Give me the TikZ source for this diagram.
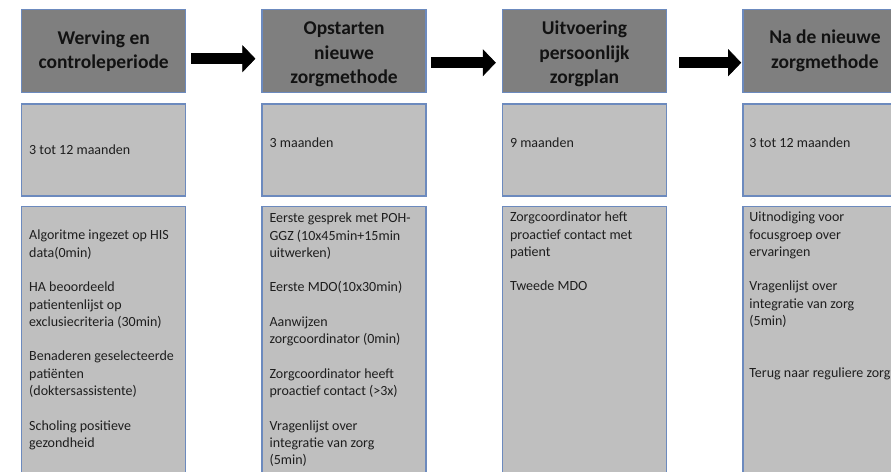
\documentclass[tikz,border=0pt]{standalone}
\usepackage{fontspec}
\setmainfont{Carlito}
\usetikzlibrary{positioning,arrows.meta}
\definecolor{phasegray}{RGB}{127,127,127}
\definecolor{infogray}{RGB}{191,191,191}
\definecolor{edgeblue}{RGB}{108,138,190}
\definecolor{inktext}{RGB}{30,30,30}
\definecolor{headink}{RGB}{18,18,18}
\newcommand{\emptyrow}{\\[17.3pt]}
\begin{document}
\begin{tikzpicture}[x=1pt, y=1pt,
    phase/.style = {draw=edgeblue, line width=1.4pt, fill=phasegray, minimum width=164pt, minimum height=83pt, align=center, text=headink, font=\fontsize{19.5}{24.8}\selectfont\bfseries},
    period/.style = {draw=edgeblue, line width=1.4pt, fill=infogray, minimum width=164pt, minimum height=92pt},
    tasks/.style = {draw=edgeblue, line width=1.4pt, fill=infogray, minimum width=164pt, minimum height=267pt},
    note/.style = {inner sep=0pt, align=left, text=inktext, font=\fontsize{14}{17.3}\selectfont},
    flow/.style = {line width=11pt, -{Triangle[length=13pt, width=27pt, line width=0.6pt]}}]
    \useasboundingbox (0,0) rectangle (891,-471);
    \clip (0,0) rectangle (891,-471);

    % phase headers
    \node[phase, anchor=north west] (h1) at (21,-9) {Werving en\\controleperiode};
    \node[phase] (h2) [right=75pt of h1] {\rule{0pt}{19pt}Opstarten\\nieuwe\\zorgmethode};
    \node[phase] (h3) [right=75pt of h2] {\rule{0pt}{19pt}Uitvoering\\persoonlijk\\zorgplan};
    \node[phase] (h4) [right=75pt of h3] {Na de nieuwe\\zorgmethode};

    % duration boxes
    \node[period] (m1) [below=10pt of h1] {};
    \node[period] (m2) [below=10pt of h2] {};
    \node[period] (m3) [below=10pt of h3] {};
    \node[period] (m4) [below=10pt of h4] {};

    % task boxes
    \node[tasks] (b1) [below=9pt of m1] {};
    \node[tasks] (b2) [below=9pt of m2] {};
    \node[tasks] (b3) [below=9pt of m3] {};
    \node[tasks] (b4) [below=9pt of m4] {};

    \node[note, anchor=west] (d1) at ([xshift=8pt]m1.west) {3 tot 12 maanden};
    \node[note, anchor=west] (d2) at ([xshift=8pt, yshift=7pt]m2.west) {3 maanden};
    \node[note, anchor=west] (d3) at ([xshift=8pt, yshift=7pt]m3.west) {9 maanden};
    \node[note, anchor=west] (d4) at ([xshift=7pt, yshift=7pt]m4.west) {3 tot 12 maanden};

    \node[note, anchor=west] (t1) at ([xshift=8pt]b1.west) {Algoritme ingezet op HIS\\data(0min)\emptyrow
        HA beoordeeld\\patientenlijst op\\exclusiecriteria (30min)\emptyrow
        Benaderen geselecteerde\\patiënten\\(doktersassistente)\emptyrow
        Scholing positieve\\gezondheid};
    \node[note, anchor=west] (t2) at ([xshift=8pt]b2.west) {Eerste gesprek met POH-\\GGZ (10x45min+15min\\uitwerken)\emptyrow
        Eerste MDO(10x30min)\emptyrow
        Aanwijzen\\zorgcoordinator (0min)\emptyrow
        Zorgcoordinator heeft\\proactief contact (>3x)\emptyrow
        Vragenlijst over\\integratie van zorg\\(5min)};
    \node[note, anchor=north west] (t3) at ([xshift=8pt, yshift=-6pt]b3.north west) {Zorgcoordinator heft\\proactief contact met\\patient\emptyrow
        Tweede MDO};
    \node[note, anchor=north west] (t4) at ([xshift=7pt, yshift=-6pt]b4.north west) {Uitnodiging voor\\focusgroep over\\ervaringen\emptyrow
        Vragenlijst over\\integratie van zorg\\(5min)\\[34.6pt]
        Terug naar reguliere zorg};

    % arrows between the phases
    \draw[flow, shorten <=5pt, shorten >=6pt] ([yshift=-7.5pt]h1.east) -- ([yshift=-7.5pt]h2.west);
    \draw[flow, shorten <=4pt, shorten >=6pt] ([yshift=-11.5pt]h2.east) -- ([yshift=-11.5pt]h3.west);
    \draw[flow, shorten <=12pt, shorten >=1pt] ([yshift=-11.5pt]h3.east) -- ([yshift=-11.5pt]h4.west);
\end{tikzpicture}
\end{document}
